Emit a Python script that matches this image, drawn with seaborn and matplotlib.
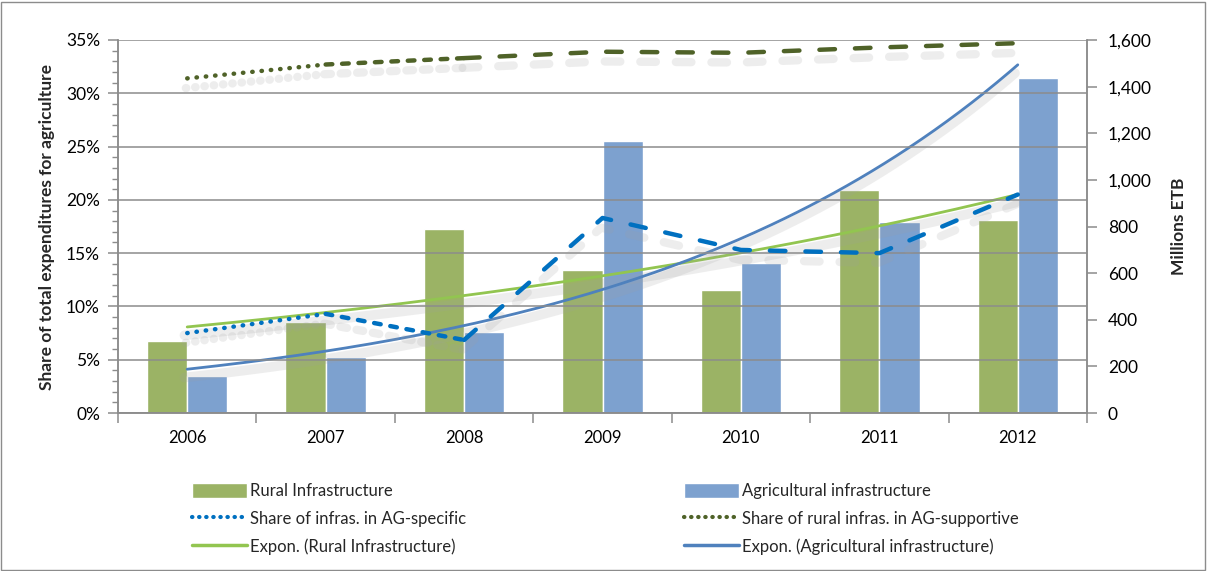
import numpy as np
import pandas as pd
import matplotlib
matplotlib.use("Agg")
import matplotlib.pyplot as plt
import matplotlib.patheffects as pe
from matplotlib.ticker import PercentFormatter, FuncFormatter, MultipleLocator, FixedLocator
from matplotlib.patches import Patch, Rectangle
from matplotlib.lines import Line2D
import seaborn as sns

years = ['2006', '2007', '2008', '2009', '2010', '2011', '2012']
rural_infra = [309, 390, 789, 613, 528, 957, 828]          # Millions ETB
agri_infra = [159, 240, 347, 1167, 643, 819, 1437]         # Millions ETB
share_ag_specific = [7.5, 9.3, 6.85, 18.3, 15.3, 15.0, 20.5]     # %
share_rural_supportive = [31.4, 32.7, 33.3, 33.9, 33.8, 34.3, 34.7]  # %

series_names = ['Rural Infrastructure', 'Agricultural infrastructure']

sns.set_theme(style="white")
plt.rcParams['font.family'] = ['Lato', 'DejaVu Sans']

C_GREEN_BAR = '#9BB365'
C_BLUE_BAR = '#7DA1CF'
C_BLUE_SHARE = '#0070C0'
C_GREEN_SHARE = '#4F6228'
C_GREEN_TREND = '#92C550'
C_BLUE_TREND = '#4F81BD'
C_GRID = '#8C8C8C'

fig = plt.figure(figsize=(12.07, 5.71), dpi=100)
ax = fig.add_axes([118/1207, 1 - 413/571, (1087-118)/1207, (413-40)/571])

df = pd.DataFrame({
    'year': years * 2,
    'value': rural_infra + agri_infra,
    'series': [series_names[0]] * len(years) + [series_names[1]] * len(years),
})
sns.barplot(data=df, x='year', y='value', hue='series', ax=ax, width=0.58,
            palette=[C_GREEN_BAR, C_BLUE_BAR], saturation=1, legend=False)

xs = np.arange(len(years))

# percentage axis (twin), then move ticks
ax2 = ax.twinx()
ax.yaxis.tick_right()
ax.yaxis.set_label_position('right')
ax2.yaxis.tick_left()
ax2.yaxis.set_label_position('left')

ax.set_ylim(0, 1600)
ax.set_xlim(-0.5, len(years) - 0.5)
ax.yaxis.set_major_locator(MultipleLocator(200))
ax.yaxis.set_major_formatter(FuncFormatter(lambda v, p: f"{int(v):,}"))
ax.set_ylabel('Millions ETB', fontsize=12.5, fontweight='bold', labelpad=14)
ax.set_xlabel('')

# exponential trend lines (Excel-style fit on log values)
xd = np.linspace(0, len(years) - 1, 200)
shadow = [pe.SimpleLineShadow(offset=(-2, -6), shadow_color='#a0a0a0', alpha=0.18, linewidth=7), pe.Normal()]
for vals, col in [(rural_infra, C_GREEN_TREND), (agri_infra, C_BLUE_TREND)]:
    b, a = np.polyfit(xs, np.log(vals), 1)
    ax.plot(xd, np.exp(a + b * xd), color=col, lw=2, zorder=4, path_effects=shadow)

ax2.set_ylim(0, 35)
ax2.set_xlim(-0.5, len(years) - 0.5)
ax2.yaxis.set_major_locator(MultipleLocator(5))
ax2.yaxis.set_minor_locator(MultipleLocator(1))
ax2.yaxis.set_major_formatter(PercentFormatter(decimals=0))
ax2.set_ylabel('Share of total expenditures for agriculture', fontsize=12.5, fontweight='bold', labelpad=8)
ax2.grid(axis='y', which='major', color=C_GRID, lw=1.1, zorder=0)
ax2.set_axisbelow(True)

shadow2 = [pe.SimpleLineShadow(offset=(-1, -7), shadow_color='#a0a0a0', alpha=0.18, linewidth=6), pe.Normal()]

def segmented(axis, vals, color, lw):
    styles = [(0, (0.1, 2.0)), (0, (1.5, 2.2)), (0, (3.5, 4.5))]
    segs = [(0, 1), (1, 2), (2, len(vals) - 1)]
    for (s, e), st in zip(segs, styles):
        axis.plot(xs[s:e + 1], vals[s:e + 1], color=color, lw=lw, linestyle=st,
                  dash_capstyle='round', solid_capstyle='round', zorder=5, path_effects=shadow2)

segmented(ax2, np.array(share_ag_specific), C_BLUE_SHARE, 3.2)
segmented(ax2, np.array(share_rural_supportive), C_GREEN_SHARE, 3.2)

# ticks / spines
for a_ in (ax, ax2):
    for s in a_.spines.values():
        s.set_color(C_GRID)
        s.set_linewidth(1.1)
    a_.spines['top'].set_visible(False)

ax.set_xticks(xs)
ax.set_xticklabels(years)
ax.xaxis.set_minor_locator(FixedLocator(np.arange(-0.5, len(years), 1)))
ax.tick_params(axis='x', which='major', length=0, labelsize=12, pad=12, colors='#000000')
ax.tick_params(axis='x', which='minor', length=7, width=1.1, color=C_GRID, direction='out', bottom=True)
ax.tick_params(axis='y', which='major', length=7, width=1.1, color=C_GRID, direction='out', labelsize=12.5, pad=8, labelcolor='#000000')
ax2.tick_params(axis='y', which='major', length=7, width=1.1, color=C_GRID, direction='out', labelsize=12.5, pad=6, labelcolor='#000000')
ax2.tick_params(axis='y', which='minor', length=4, width=1.0, color=C_GRID, direction='out', left=True)
ax2.tick_params(axis='x', bottom=False, labelbottom=False)

# legends
h1 = [Patch(facecolor=C_GREEN_BAR, label='Rural Infrastructure'),
      Line2D([], [], color=C_BLUE_SHARE, lw=3, linestyle=(0, (0.1, 1.6)), dash_capstyle='round', label='Share of infras. in AG-specific'),
      Line2D([], [], color=C_GREEN_TREND, lw=2.5, label='Expon. (Rural Infrastructure)')]
h2 = [Patch(facecolor=C_BLUE_BAR, label='Agricultural infrastructure'),
      Line2D([], [], color=C_GREEN_SHARE, lw=3, linestyle=(0, (0.1, 1.6)), dash_capstyle='round', label='Share of rural infras. in AG-supportive'),
      Line2D([], [], color=C_BLUE_TREND, lw=2.5, label='Expon. (Agricultural infrastructure)')]
kw = dict(frameon=False, fontsize=12, handlelength=3.3, handleheight=1.0, handletextpad=0.2,
          labelspacing=0.7, loc='upper left', borderaxespad=0)
leg1 = fig.legend(handles=h1, bbox_to_anchor=(185/1207, 1 - 476/571), **kw)
leg2 = fig.legend(handles=h2, bbox_to_anchor=(677/1207, 1 - 476/571), **kw)

# outer border
fig.patches.append(Rectangle((1/1207, 1/571), 1 - 3/1207, 1 - 3/571, transform=fig.transFigure,
                             fill=False, edgecolor='#8c8c8c', lw=1.0))

fig.savefig('out.png', dpi=100)
